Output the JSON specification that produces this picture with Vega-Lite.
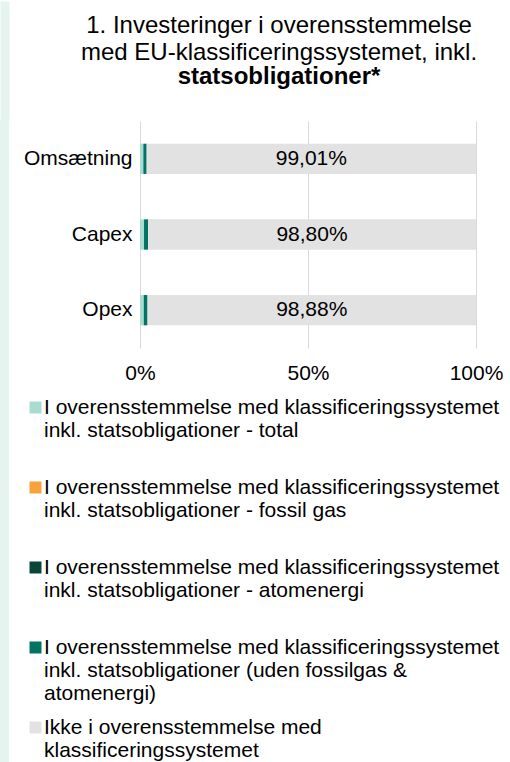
{
  "$schema": "https://vega.github.io/schema/vega-lite/v6.json",
  "padding": {"top": -4, "left": 0, "right": 0, "bottom": 0},
  "background": "white",
  "spacing": 14,
  "align": "none",
  "config": {"view": {"stroke": null}, "font": "Liberation Sans"},
  "datasets": {
    "bars": [
      {"kategori": "Omsætning", "serie": "I overensstemmelse med klassificeringssystemet|inkl. statsobligationer - total", "rk": 1, "value": 0.99},
      {"kategori": "Omsætning", "serie": "I overensstemmelse med klassificeringssystemet|inkl. statsobligationer - fossil gas", "rk": 2, "value": 0},
      {"kategori": "Omsætning", "serie": "I overensstemmelse med klassificeringssystemet|inkl. statsobligationer - atomenergi", "rk": 3, "value": 0},
      {"kategori": "Omsætning", "serie": "I overensstemmelse med klassificeringssystemet|inkl. statsobligationer (uden fossilgas &|atomenergi)", "rk": 4, "value": 0.99},
      {"kategori": "Omsætning", "serie": "Ikke i overensstemmelse med|klassificeringssystemet", "rk": 5, "value": 99.01, "label": "99,01%"},
      {"kategori": "Capex", "serie": "I overensstemmelse med klassificeringssystemet|inkl. statsobligationer - total", "rk": 1, "value": 1.2},
      {"kategori": "Capex", "serie": "I overensstemmelse med klassificeringssystemet|inkl. statsobligationer - fossil gas", "rk": 2, "value": 0},
      {"kategori": "Capex", "serie": "I overensstemmelse med klassificeringssystemet|inkl. statsobligationer - atomenergi", "rk": 3, "value": 0},
      {"kategori": "Capex", "serie": "I overensstemmelse med klassificeringssystemet|inkl. statsobligationer (uden fossilgas &|atomenergi)", "rk": 4, "value": 1.2},
      {"kategori": "Capex", "serie": "Ikke i overensstemmelse med|klassificeringssystemet", "rk": 5, "value": 98.8, "label": "98,80%"},
      {"kategori": "Opex", "serie": "I overensstemmelse med klassificeringssystemet|inkl. statsobligationer - total", "rk": 1, "value": 1.12},
      {"kategori": "Opex", "serie": "I overensstemmelse med klassificeringssystemet|inkl. statsobligationer - fossil gas", "rk": 2, "value": 0},
      {"kategori": "Opex", "serie": "I overensstemmelse med klassificeringssystemet|inkl. statsobligationer - atomenergi", "rk": 3, "value": 0},
      {"kategori": "Opex", "serie": "I overensstemmelse med klassificeringssystemet|inkl. statsobligationer (uden fossilgas &|atomenergi)", "rk": 4, "value": 1.12},
      {"kategori": "Opex", "serie": "Ikke i overensstemmelse med|klassificeringssystemet", "rk": 5, "value": 98.88, "label": "98,88%"}
    ]
  },
  "hconcat": [
    {
      "width": 9,
      "height": 642,
      "data": {"values": [{"a": 0, "b": 1}]},
      "mark": {"type": "rect", "color": "#e6f4ef"},
      "encoding": {
        "x": {
          "field": "a",
          "type": "quantitative",
          "scale": {"domain": [0, 1], "nice": false},
          "axis": {"orient": "top", "title": null, "values": [0.5], "labels": false, "labelPadding": 0, "domain": false, "grid": false, "ticks": true, "tickSize": 120, "tickWidth": 9, "tickColor": "#e6f4ef", "tickCap": "butt", "tickRound": false, "offset": 0}
        },
        "x2": {"field": "b"}
      }
    },
    {
      "width": 336,
      "height": 227,
      "title": {
        "text": ["1. Investeringer i overensstemmelse", "med EU-klassificeringssystemet, inkl."],
        "subtitle": "statsobligationer*",
        "fontSize": 24,
        "subtitleFontSize": 24,
        "fontWeight": "normal",
        "subtitleFontWeight": "bold",
        "lineHeight": 27,
        "subtitleLineHeight": 27,
        "subtitlePadding": 0,
        "anchor": "middle",
        "frame": "group",
        "dx": -29,
        "offset": 32,
        "color": "black",
        "subtitleColor": "black",
        "font": "Liberation Sans",
        "subtitleFont": "Liberation Sans"
      },
      "data": {"name": "bars"},
      "transform": [
        {"stack": "value", "groupby": ["kategori"], "sort": [{"field": "rk", "order": "ascending"}], "as": ["x0", "x1"]}
      ],
      "encoding": {
        "y": {
          "field": "kategori",
          "type": "nominal",
          "sort": ["Omsætning", "Capex", "Opex"],
          "scale": {"paddingInner": 0.6, "paddingOuter": 0.3},
          "axis": {"title": null, "domain": false, "ticks": false, "labelFontSize": 21, "labelColor": "black", "labelPadding": 8, "grid": false}
        }
      },
      "layer": [
        {
          "mark": {"type": "bar", "clip": true},
          "encoding": {
            "x": {
              "field": "x0",
              "type": "quantitative",
              "scale": {"domain": [0, 100], "nice": false},
              "axis": {"title": null, "domain": false, "ticks": false, "tickSize": 0, "values": [0, 50, 100], "labelExpr": "datum.value + '%'", "labelFlush": false, "labelFontSize": 21, "labelColor": "black", "labelPadding": 14, "grid": true, "gridColor": "#d9d9d9", "gridWidth": 1}
            },
            "x2": {"field": "x1"},
            "color": {
              "field": "serie",
              "type": "nominal",
              "scale": {
                "domain": [
                  "I overensstemmelse med klassificeringssystemet|inkl. statsobligationer - total",
                  "I overensstemmelse med klassificeringssystemet|inkl. statsobligationer - fossil gas",
                  "I overensstemmelse med klassificeringssystemet|inkl. statsobligationer - atomenergi",
                  "I overensstemmelse med klassificeringssystemet|inkl. statsobligationer (uden fossilgas &|atomenergi)",
                  "Ikke i overensstemmelse med|klassificeringssystemet"
                ],
                "range": ["#a8dcd0", "#f9a13a", "#0a4538", "#007363", "#e2e2e2"]
              },
              "legend": {
                "title": null,
                "orient": "none",
                "legendX": 25,
                "legendY": 282,
                "direction": "vertical",
                "columns": 1,
                "padding": 0,
                "symbolType": "M-1,-2H1V0H-1Z",
                "symbolSize": 144,
                "symbolStrokeWidth": 0,
                "symbolOpacity": 1,
                "labelExpr": "split(datum.label, '|')",
                "labelFontSize": 21,
                "labelLineHeight": 24.5,
                "labelColor": "black",
                "labelLimit": 500,
                "labelOffset": -2,
                "labelBaseline": "alphabetic",
                "rowPadding": 12,
                "gridAlign": "all"
              }
            }
          }
        },
        {
          "transform": [
            {"filter": "datum.rk == 5"},
            {"calculate": "(datum.x0 + min(datum.x1, 100)) / 2", "as": "mid"}
          ],
          "mark": {"type": "text", "fontSize": 21, "color": "black"},
          "encoding": {
            "x": {"field": "mid", "type": "quantitative"},
            "text": {"field": "label"}
          }
        }
      ]
    }
  ]
}
